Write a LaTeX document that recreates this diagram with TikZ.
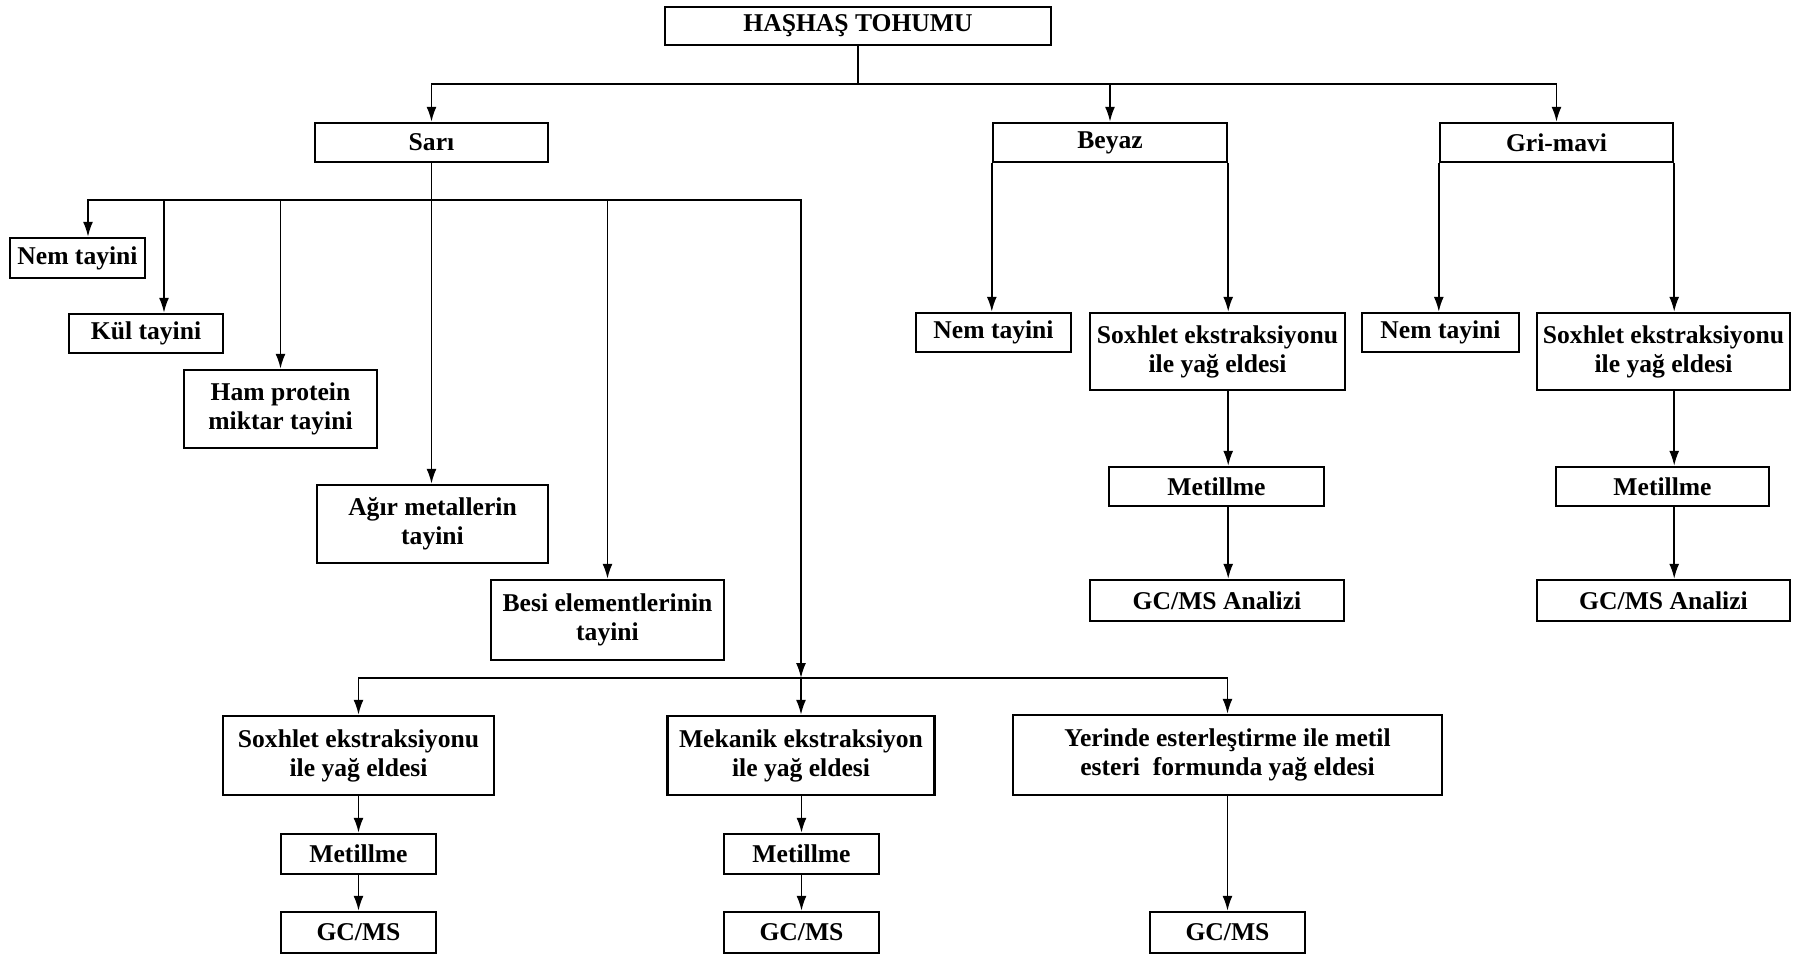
\documentclass[tikz,border=0pt]{standalone}
\usepackage{fontspec}
\setmainfont{Liberation Serif}
\usetikzlibrary{arrows.meta}
\begin{document}
\begin{tikzpicture}[x=1pt,y=-1pt,
        box/.style={draw=black, line width=2.4pt, align=center, inner sep=2pt,
            font=\fontsize{25.6}{29}\selectfont\bfseries},
        arr/.style={line width=1.8pt, -{Latex[length=15pt,width=10pt]}},
        link/.style={line width=1.8pt}]
            \useasboundingbox (0,0) rectangle (1797,956);
            \fill[white] (0,0) rectangle (1797,956);
            \node[box, minimum width=386pt, minimum height=38pt] (tohum) at (858,26) {HAŞHAŞ TOHUMU};
            \node[box, minimum width=233pt, minimum height=39pt] (sari) at (431.5,142.5) {Sarı};
            \node[box, minimum width=234pt, minimum height=39pt] (beyaz) at (1110,142.5) {Beyaz};
            \node[box, minimum width=233pt, minimum height=39pt] (gri) at (1556.5,142.5) {Gri-mavi};
            \node[box, minimum width=135pt, minimum height=40pt] (snem) at (77.5,258) {Nem tayini};
            \node[box, minimum width=154pt, minimum height=39pt] (skul) at (146,333.5) {Kül tayini};
            \node[box, minimum width=193pt, minimum height=78pt] (sham) at (280.5,409) {Ham protein\\miktar tayini};
            \node[box, minimum width=231pt, minimum height=78pt] (sagir) at (432.5,524) {Ağır metallerin\\tayini};
            \node[box, minimum width=233pt, minimum height=80pt] (sbesi) at (607.5,620) {Besi elementlerinin\\tayini};
            \node[box, minimum width=271pt, minimum height=79pt] (ssox) at (358.5,755.5) {Soxhlet ekstraksiyonu\\ile yağ eldesi};
            \node[box, minimum width=267pt, minimum height=79pt] (smek) at (801,755.5) {Mekanik ekstraksiyon\\ile yağ eldesi};
            \node[box, minimum width=429pt, minimum height=80pt] (syer) at (1227.5,755) {Yerinde esterleştirme ile metil\\esteri\ \ formunda yağ eldesi};
            \node[box, minimum width=155pt, minimum height=40pt] (smet1) at (358.5,854) {Metillme};
            \node[box, minimum width=155pt, minimum height=40pt] (smet2) at (801.5,854) {Metillme};
            \node[box, minimum width=155pt, minimum height=41pt] (sgc1) at (358.5,932.5) {GC/MS};
            \node[box, minimum width=155pt, minimum height=41pt] (sgc2) at (801.5,932.5) {GC/MS};
            \node[box, minimum width=155pt, minimum height=41pt] (sgc3) at (1227.5,932.5) {GC/MS};
            \node[box, minimum width=155pt, minimum height=39pt] (bnem) at (993.5,332.5) {Nem tayini};
            \node[box, minimum width=255pt, minimum height=77pt] (bsox) at (1217.5,351.5) {Soxhlet ekstraksiyonu\\ile yağ eldesi};
            \node[box, minimum width=215pt, minimum height=39pt] (bmet) at (1216.5,486.5) {Metillme};
            \node[box, minimum width=254pt, minimum height=41pt] (bgc) at (1217,600.5) {GC/MS Analizi};
            \node[box, minimum width=157pt, minimum height=39pt] (gnem) at (1440.5,332.5) {Nem tayini};
            \node[box, minimum width=253pt, minimum height=77pt] (gsox) at (1663.5,351.5) {Soxhlet ekstraksiyonu\\ile yağ eldesi};
            \node[box, minimum width=213pt, minimum height=39pt] (gmet) at (1662.5,486.5) {Metillme};
            \node[box, minimum width=253pt, minimum height=41pt] (ggc) at (1663.5,600.5) {GC/MS Analizi};
            \coordinate (tbus) at (858,84);
            \draw[link] (tohum.south) -- (tbus);
            \draw[arr] (tbus) -| (sari.north);
            \draw[arr] (tbus) -| (beyaz.north);
            \draw[arr] (tbus) -| (gri.north);
            \coordinate (sbus) at (431.5,200);
            \draw[link] (sari.south) -- (sbus);
            \draw[arr] (sbus) -- (sbus |- sagir.north);
            \draw[arr] (sbus) -| ([xshift=10.5pt]snem.north);
            \draw[arr] (sbus) -| ([xshift=18pt]skul.north);
            \draw[arr] (sbus) -| (sham.north);
            \draw[arr] (sbus) -| (sbesi.north);
            \coordinate (obus) at (801,678);
            \draw[arr] (sbus) -| (obus);
            \draw[arr] (obus) -| (ssox.north);
            \draw[arr] (obus) -- (smek.north);
            \draw[arr] (obus) -| (syer.north);
            \draw[arr] (ssox) -- (smet1);
            \draw[arr] (smet1) -- (sgc1);
            \draw[arr] (smek.south -| smet2) -- (smet2);
            \draw[arr] (smet2) -- (sgc2);
            \draw[arr] (syer.south -| sgc3) -- (sgc3);
            \draw[arr] (beyaz.south west) -- (beyaz.south west |- bnem.north);
            \draw[arr] (beyaz.south east) -- (beyaz.south east |- bsox.north);
            \draw[arr] (bsox.south -| beyaz.south east) -- (bmet.north -| beyaz.south east);
            \draw[arr] (bmet.south -| beyaz.south east) -- (bgc.north -| beyaz.south east);
            \draw[arr] (gri.south west) -- (gri.south west |- gnem.north);
            \draw[arr] (gri.south east) -- (gri.south east |- gsox.north);
            \draw[arr] (gsox.south -| gri.south east) -- (gmet.north -| gri.south east);
            \draw[arr] (gmet.south -| gri.south east) -- (ggc.north -| gri.south east);
        \end{tikzpicture}
\end{document}
